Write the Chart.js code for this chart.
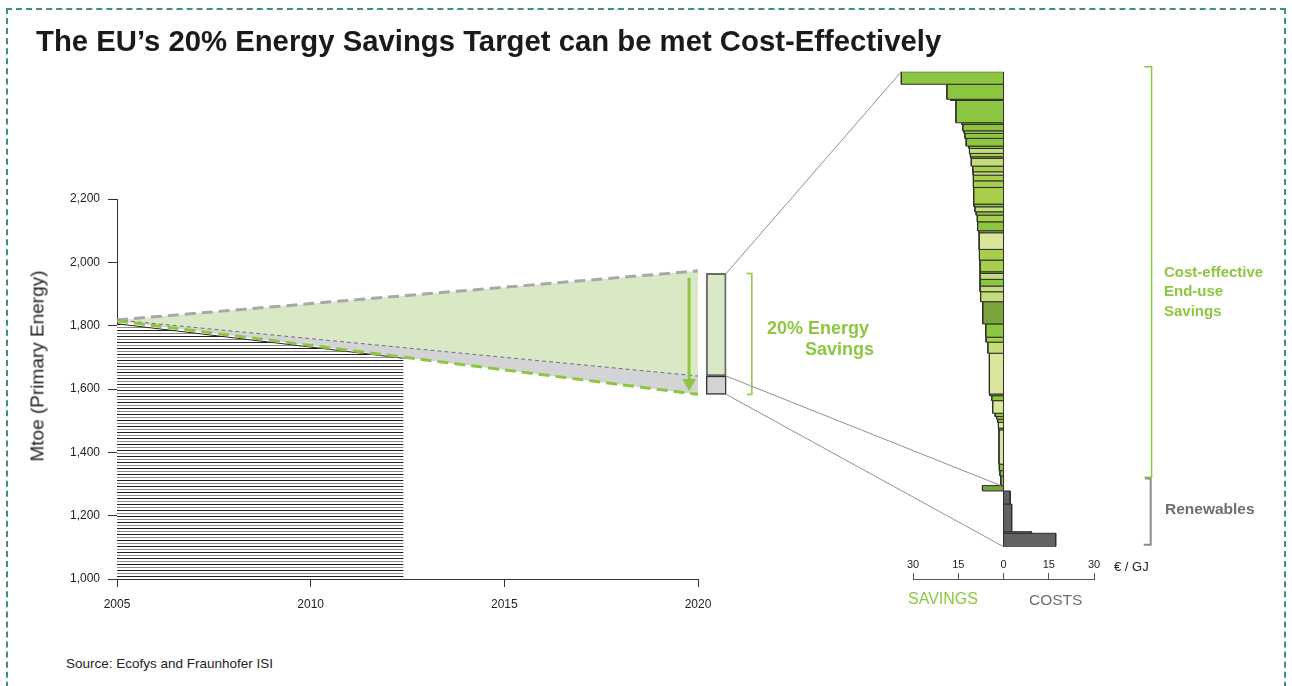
<!DOCTYPE html>
<html><head><meta charset="utf-8">
<script src="https://cdn.jsdelivr.net/npm/chart.js@4.4.1/dist/chart.umd.min.js"></script>
<style>
html,body{margin:0;padding:0;background:#fff;}
body{width:1292px;height:686px;position:relative;overflow:hidden;font-family:"Liberation Sans",Arial,Helvetica,sans-serif;}
.frame{position:absolute;left:6px;top:8px;width:1280px;height:720px;border:2px dashed #3a8f8b;box-sizing:border-box;}
canvas{position:absolute;}
.t{position:absolute;white-space:nowrap;line-height:1;}
.g{color:#8dc63f;font-weight:bold;}
</style></head>
<body>
<div class="frame"></div>
<canvas id="c1" width="760" height="480" style="left:0;top:150px;"></canvas>
<canvas id="c2" width="480" height="530" style="left:700px;top:40px;"></canvas>
<canvas id="c3" width="480" height="30" style="left:700px;top:555px;"></canvas>

<div class="t" style="left:36px;top:26px;font-size:29.3px;font-weight:bold;color:#1a1a1a;">The EU’s 20% Energy Savings Target can be met Cost-Effectively</div>
<div class="t" style="left:37px;top:366px;font-size:19px;color:#222;transform:translate(-50%,-50%) rotate(-90deg);">Mtoe (Primary Energy)</div>
<div class="t g" style="left:767px;top:319px;font-size:18px;">20% Energy</div>
<div class="t g" style="left:805px;top:340px;font-size:18px;">Savings</div>
<div class="t g" style="left:1164px;top:263.5px;font-size:15px;">Cost-effective</div>
<div class="t g" style="left:1164px;top:283px;font-size:15px;">End-use</div>
<div class="t g" style="left:1164px;top:302.5px;font-size:15px;">Savings</div>
<div class="t" style="left:1165px;top:501px;font-size:15.5px;font-weight:bold;color:#6d6e70;">Renewables</div>
<div class="t" style="left:1114px;top:559.5px;font-size:13px;color:#222;">€ / GJ</div>
<div class="t" style="left:908px;top:591px;font-size:16px;color:#8dc63f;">SAVINGS</div>
<div class="t" style="left:1029px;top:591.5px;font-size:15.5px;color:#6d6e70;">COSTS</div>
<div class="t" style="left:66px;top:656.5px;font-size:13.5px;color:#222;">Source: Ecofys and Fraunhofer ISI</div>

<script>
// ---------------- DATA ----------------
// Left chart: EU primary energy consumption (Mtoe)
const projYears = [2005, 2020];
const baselineMtoe = [1818, 1973];      // baseline projection (grey dashed)
const withMeasuresMtoe = [1818, 1641];  // thin dashed line
const targetMtoe = [1815, 1583];        // 20% target path (green dashed)
const historicYears = [2005, 2012.4];
const historicMtoe = [1806, 1697];
const columnYear = 2020.47;
const columnTopMtoe = 1965;
const arrowYear = 2019.77;
const arrowMtoe = [1951, 1619];
const yTickValues = [1000, 1200, 1400, 1600, 1800, 2000, 2200];
const xTickValues = [2005, 2010, 2015, 2020];

// Cost curve: each measure's potential (Mtoe) and cost (EUR/GJ; negative = savings)
const measurePotential = [10.1, 12.1, 1.0, 17.9, 1.3, 5.2, 2.1, 4.0, 6.2, 1.9,
  4.0, 2.7, 1.3, 6.2, 4.6, 2.7, 4.6, 5.3, 13.4, 2.2,
  4.0, 2.7, 5.4, 7.2, 1.6, 13.4, 8.6, 9.4, 1.3, 4.8,
  5.4, 4.6, 8.0, 17.9, 10.7, 4.0, 8.9, 32.8, 1.4, 4.0,
  10.1, 2.7, 2.1, 2.7, 4.5, 1.4, 27.6, 5.2, 4.3, 7.8,
  4.3, 10.5, 22.3, 1.3, 10.8];
const measureCost = [-33.9, -18.8, -17.5, -15.8, -13.9, -13.5, -13.1, -12.8, -12.4, -11.5,
  -11.3, -11.0, -10.8, -10.7, -10.2, -10.1, -10.0, -10.0, -9.9, -9.8,
  -9.5, -9.1, -8.7, -8.6, -8.2, -8.1, -8.0, -7.8, -7.8, -7.8,
  -7.8, -7.8, -7.6, -6.9, -5.9, -5.8, -5.2, -4.7, -4.6, -3.9,
  -3.6, -2.8, -2.3, -1.9, -1.7, -1.6, -1.5, -1.4, -1.2, -0.9,
  -7.0, 2.2, 2.7, 9.3, 17.3];
const measureGroup = ['A','A','A','A','A','A','B','A','A','A',
  'C','B','A','C','B','C','B','B','B','A',
  'C','A','B','A','B','D','B','B','A','C',
  'A','C','C','E','A','B','C','D','A','A',
  'D','A','B','A','D','A','D','A','A','A',
  'E','R','R','R','R'];
const endUseRange = [-4, 326.5];
const renewRange = [327.5, 381];
const costTicks = [-30, -15, 0, 15, 30];

// ---------------- STYLE ----------------
const GREEN = '#8dc63f';
const groupColors = {A:'#8cc540', B:'#a7cf4c', C:'#c4dc7c', D:'#d9e69b', E:'#7ba33c', R:'#626264'};
Chart.defaults.font.family = '"Liberation Sans", Arial, Helvetica, sans-serif';

const c1 = document.getElementById('c1');
const c2 = document.getElementById('c2');
const c3 = document.getElementById('c3');

function hatchPattern(ctx){
  const p = document.createElement('canvas'); p.width = 4; p.height = 6;
  const g = p.getContext('2d');
  g.fillStyle = '#fff'; g.fillRect(0,0,4,6);
  g.fillStyle = '#1e1e1e'; g.fillRect(0,0,4,1);
  g.fillStyle = '#8a8a8a'; g.fillRect(0,3,4,1);
  return ctx.createPattern(p, 'repeat');
}
const pts = (xs, ys) => xs.map((x,i)=>({x, y: ys[i]}));

const main = new Chart(c1, {
  type: 'line',
  data: { datasets: [
    {label:'baseline', data: pts(projYears, baselineMtoe), borderColor:'#a8a8aa', borderWidth:3, borderDash:[11,6],
      fill:'+1', backgroundColor:'#d9e9c5', pointRadius:0, order:5},
    {label:'withMeasures', data: pts(projYears, withMeasuresMtoe), borderColor:'#6f6f6f', borderWidth:1, borderDash:[4,3],
      fill:'+1', backgroundColor:'#d3d4d6', pointRadius:0, order:4},
    {label:'target', data: pts(projYears, targetMtoe), borderColor:GREEN, borderWidth:3, borderDash:[11,6],
      fill:false, pointRadius:0, order:3},
    {label:'historic', data: pts(historicYears, historicMtoe), borderColor:'#222', borderWidth:1,
      fill:'start', backgroundColor: hatchPattern(c1.getContext('2d')), pointRadius:0, order:10},
    {type:'bar', label:'savingsColumn', data:[{x:columnYear, y:[withMeasuresMtoe[1], columnTopMtoe]}],
      backgroundColor:'#d9e9c5', borderColor:'#6b6b6b', borderWidth:2, borderSkipped:false, barThickness:20,
      grouped:false, clip:false, order:2},
    {type:'bar', label:'extraColumn', data:[{x:columnYear, y:[targetMtoe[1], withMeasuresMtoe[1]]}],
      backgroundColor:'#d3d4d6', borderColor:'#333', borderWidth:1.5, borderSkipped:false, barThickness:20,
      grouped:false, clip:false, order:1},
    {label:'arrow', data: pts([arrowYear, arrowYear], arrowMtoe), borderColor:GREEN, borderWidth:3,
      pointRadius:[0,8], pointStyle:'triangle', pointRotation:180, pointBackgroundColor:GREEN,
      pointBorderColor:GREEN, pointBorderWidth:0, fill:false, clip:false, order:0},
    {label:'bracket', data: pts([columnYear+0.79, columnYear+0.92, columnYear+0.92, columnYear+0.79],
      [columnTopMtoe, columnTopMtoe, targetMtoe[1], targetMtoe[1]]),
      borderColor:GREEN, borderWidth:1.5, pointRadius:0, fill:false, clip:false, order:0}
  ]},
  options: {
    responsive:false, animation:false, events:[],
    layout:{padding:{left:26, right:62, top:49, bottom:0}},
    plugins:{legend:{display:false}, tooltip:{enabled:false}},
    scales:{
      x:{type:'linear', min:2005, max:2020, offset:false,
        afterFit(s){ s.height = 51; },
        afterBuildTicks(s){ s.ticks = xTickValues.map(v=>({value:v})); },
        ticks:{callback:v=>String(v), font:{size:12}, color:'#222', padding:10, maxRotation:0, autoSkip:false},
        grid:{drawOnChartArea:false, offset:false, tickLength:8, color:'#333'}, border:{color:'#333', width:1}},
      y:{type:'linear', min:1000, max:2200,
        afterFit(s){ s.width = 91; },
        afterBuildTicks(s){ s.ticks = yTickValues.map(v=>({value:v})); },
        ticks:{callback:v=>Number(v).toLocaleString('en-US'), font:{size:12}, color:'#222', padding:8},
        grid:{drawOnChartArea:false, offset:false, tickLength:9, color:'#333'}, border:{color:'#333', width:1}}
    }
  }
});

// cost curve
const cumStart = [];
let cum = 0;
measurePotential.forEach(h => { cumStart.push(cum); cum += h; });
const totalPotential = cum;

const curveSets = measureCost.map((c,i)=>{
  const t = cumStart[i], b = cumStart[i] + measurePotential[i];
  return {data:[{x:0,y:t},{x:c,y:t},{x:c,y:b},{x:0,y:b},{x:0,y:t}], showLine:true, fill:'shape',
    backgroundColor: groupColors[measureGroup[i]], borderColor:'#2e2e2e', borderWidth:1, pointRadius:0, tension:0};
});
curveSets.push({data:[{x:46.7,y:endUseRange[0]},{x:49.1,y:endUseRange[0]},{x:49.1,y:endUseRange[1]},{x:46.7,y:endUseRange[1]}],
  showLine:true, fill:false, borderColor:GREEN, borderWidth:1.5, pointRadius:0, clip:false});
curveSets.push({data:[{x:47,y:renewRange[0]},{x:48.8,y:renewRange[0]},{x:48.8,y:renewRange[1]},{x:46.5,y:renewRange[1]}],
  showLine:true, fill:false, borderColor:'#8a8a8c', borderWidth:2, pointRadius:0, clip:false});

const midIdx = measureGroup.indexOf('E', 40); // first supply-side bar after end-use savings
const connectors = {
  id:'connectors',
  afterDatasetsDraw(chart){
    const ctx = chart.ctx, xs = chart.scales.x, ys = chart.scales.y;
    const dx = c1.offsetLeft - c2.offsetLeft, dy = c1.offsetTop - c2.offsetTop;
    const bar = main.getDatasetMeta(4).data[0];
    const right = bar.x + bar.width/2 + dx;
    const my = v => main.scales.y.getPixelForValue(v) + dy;
    const pairs = [
      [right, my(columnTopMtoe), xs.getPixelForValue(measureCost[0]), ys.getPixelForValue(0)],
      [right, my(withMeasuresMtoe[1]), xs.getPixelForValue(measureCost[midIdx-1]), ys.getPixelForValue(cumStart[midIdx])],
      [right, my(targetMtoe[1]), xs.getPixelForValue(0), ys.getPixelForValue(totalPotential)]
    ];
    ctx.save(); ctx.strokeStyle = '#8f8f8f'; ctx.lineWidth = 1;
    pairs.forEach(p=>{ ctx.beginPath(); ctx.moveTo(p[0],p[1]); ctx.lineTo(p[2],p[3]); ctx.stroke(); });
    ctx.restore();
  }
};

new Chart(c2, {
  type:'scatter',
  data:{datasets: curveSets},
  options:{
    responsive:false, animation:false, events:[],
    layout:{padding:{left:198, right:86, top:31.7, bottom:23.3}},
    plugins:{legend:{display:false}, tooltip:{enabled:false}},
    scales:{
      x:{type:'linear', min:-35, max:30, display:false},
      y:{type:'linear', min:0, max:totalPotential, reverse:true, display:false}
    }
  },
  plugins:[connectors]
});

new Chart(c3, {
  type:'scatter',
  data:{datasets:[]},
  options:{
    responsive:false, animation:false, events:[],
    layout:{padding:{left:213, right:86, top:0, bottom:0}},
    plugins:{legend:{display:false}, tooltip:{enabled:false}},
    scales:{
      x:{type:'linear', position:'top', min:-30, max:30,
        afterFit(s){ s.height = 24; },
        afterBuildTicks(s){ s.ticks = costTicks.map(v=>({value:v})); },
        ticks:{callback:v=>String(Math.abs(v)), font:{size:11}, color:'#222', padding:1, maxRotation:0, autoSkip:false},
        grid:{drawOnChartArea:false, offset:false, tickLength:6, color:'#555'}, border:{color:'#555', width:1}},
      y:{display:false, min:0, max:1}
    }
  }
});
</script>
</body></html>
